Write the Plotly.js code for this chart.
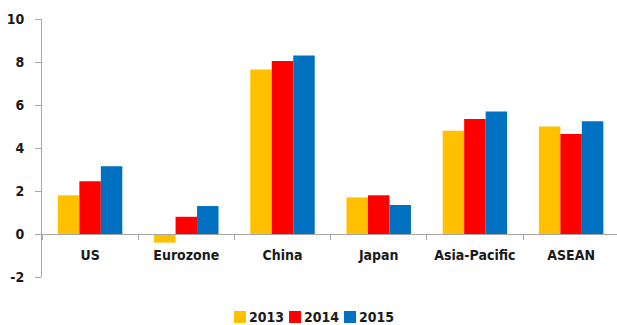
<!DOCTYPE html>
<html>
<head>
<meta charset="utf-8">
<script src="https://cdn.plot.ly/plotly-3.0.1.min.js"></script>
<style>
  html, body { margin: 0; padding: 0; background: #fff; }
  #chart { width: 617px; height: 325px; }
</style>
</head>
<body>
<div id="chart"></div>
<script>
const categories = ['US', 'Eurozone', 'China', 'Japan', 'Asia-Pacific', 'ASEAN'];
const years = ['2013', '2014', '2015'];
const values2013 = [1.8, -0.4, 7.65, 1.7, 4.8, 5.0];
const values2014 = [2.45, 0.8, 8.05, 1.8, 5.35, 4.65];
const values2015 = [3.15, 1.3, 8.3, 1.35, 5.7, 5.25];
const colors = ['#FFC000', '#FF0000', '#0070C0'];
const yTicks = [-2, 0, 2, 4, 6, 8, 10];

const FONT = '"DejaVu Sans Condensed", "Liberation Sans Narrow", "Liberation Sans", sans-serif';
const series = [values2013, values2014, values2015];

const traces = series.map((vals, i) => ({
  type: 'bar',
  name: years[i],
  x: categories,
  y: vals,
  marker: { color: colors[i], line: { width: 0 } },
  hoverinfo: 'x+y+name',
  showlegend: false
}));

// Legend drawn as key squares + labels below the plot (paper coordinates)
const PLOT_L = 42, PLOT_W = 575, PLOT_B = 277, PLOT_H = 258;
const px2x = px => (px - PLOT_L) / PLOT_W;
const py2y = py => (PLOT_B - py) / PLOT_H;
const legendStep = 55, legendStart = 234;

const legendShapes = years.map((yr, i) => ({
  type: 'rect', xref: 'paper', yref: 'paper',
  x0: px2x(legendStart + i * legendStep), x1: px2x(legendStart + 12 + i * legendStep),
  y0: py2y(323), y1: py2y(311),
  fillcolor: colors[i], line: { width: 0 }
}));

const legendAnn = years.map((yr, i) => ({
  xref: 'paper', yref: 'paper',
  x: px2x(legendStart + 13 + i * legendStep), y: py2y(317),
  xanchor: 'left', yanchor: 'middle',
  showarrow: false,
  text: yr,
  font: { family: FONT, size: 14, color: '#1a1a1a', weight: 'bold' }
}));

const layout = {
  width: 617, height: 325,
  margin: { l: 42, r: 0, t: 19, b: 48 },
  paper_bgcolor: '#ffffff',
  plot_bgcolor: '#ffffff',
  barmode: 'group',
  bargap: 0.33,
  bargroupgap: 0,
  showlegend: false,
  xaxis: {
    type: 'category',
    range: [-0.5, 5.477],
    anchor: 'free',
    position: 2 / 12,
    automargin: false,
    tickangle: 0,
    showline: true,
    linecolor: '#a6a6a6',
    linewidth: 1,
    ticks: 'outside',
    tickson: 'boundaries',
    ticklen: 5,
    tickcolor: '#a6a6a6',
    showgrid: false,
    zeroline: false,
    ticklabelstandoff: 8,
    tickfont: { family: FONT, size: 14, color: '#1a1a1a', weight: 'bold' }
  },
  yaxis: {
    range: [-2, 10],
    tickvals: yTicks,
    ticktext: yTicks.map(String),
    automargin: false,
    showline: true,
    linecolor: '#a6a6a6',
    linewidth: 1,
    ticks: 'outside',
    ticklen: 6,
    tickcolor: '#a6a6a6',
    showgrid: false,
    zeroline: false,
    ticklabelstandoff: 8,
    tickfont: { family: FONT, size: 14, color: '#1a1a1a', weight: 'bold' }
  },
  shapes: legendShapes,
  annotations: legendAnn
};

Plotly.newPlot('chart', traces, layout, { displayModeBar: false, staticPlot: true });
</script>
</body>
</html>
